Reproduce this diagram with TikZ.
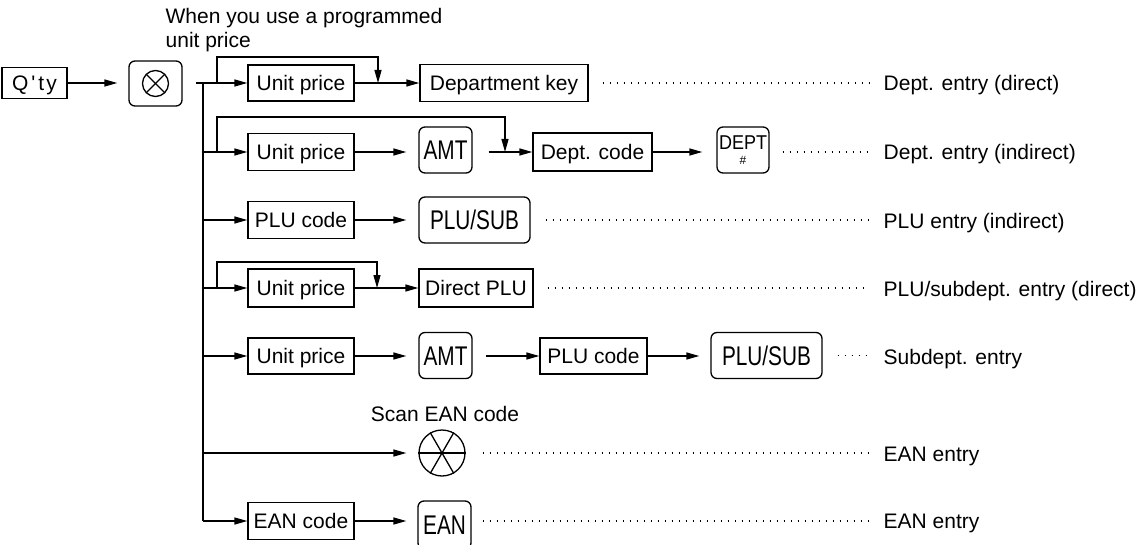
\documentclass[tikz,border=0pt]{standalone}
\usepackage{fontspec}
\setmainfont{Liberation Sans}
\usepackage{graphicx}
\usetikzlibrary{arrows.meta}
\newcommand\keyt[1]{\scalebox{0.77}[1]{\fontsize{27}{27}\selectfont #1}}
\begin{document}
\begin{tikzpicture}[x=1pt,y=-1pt,
  line width=1.3pt,
  font=\fontsize{21}{24}\selectfont,
  every node/.style={inner sep=0pt},
  box/.style={draw, line width=1.3pt, minimum height=36pt, text height=15pt, text depth=0pt},
  key/.style={draw, line width=1.3pt, rounded corners=6pt, minimum width=53pt, minimum height=46pt, text height=19.3pt, text depth=0pt},
  arr/.style={-{Triangle[length=13pt,width=7pt]}},
  dotline/.style={line width=1.3pt, dash pattern=on 1.3pt off 5.7pt},
  lab/.style={anchor=base west},
]
\useasboundingbox (0,0) rectangle (1147,545);

% top note
\node[anchor=north west, align=left] (note) at (165,7.5) {When you use a programmed\\unit price};

% start
\node[box, minimum width=65pt, minimum height=31pt] (qty) at (34.5,83) {Q\kern3pt\textquotesingle\kern3pt t\kern2pt y};
\node[key, minimum height=45pt] (otimes) at (155.5,83.5) {};
\draw (otimes.center) circle[radius=13pt];
\draw ([shift={(45:13pt)}]otimes.center) -- ([shift={(225:13pt)}]otimes.center);
\draw ([shift={(135:13pt)}]otimes.center) -- ([shift={(315:13pt)}]otimes.center);
\draw[arr, shorten >=11pt] (qty) -- (qty -| otimes.west);

% trunk
\coordinate (stub) at (196,83);
\coordinate (ttop) at (203,83);
\coordinate (tbot) at (203,521);
\draw (ttop) -- (tbot);

% row 1
\node[box, minimum width=106pt] (u1) at (301,83) {Unit price};
\node[box, minimum width=168pt, minimum height=37pt] (dk) at (504,83) {Department key};
\draw[arr] (stub) -- (u1);
\coordinate (b1) at (217,83);
\coordinate (m1) at (378,83);
\draw[arr] (b1) -- ++(0,-26) -| (m1);
\draw[arr] (u1) -- (dk);

% row 2
\node[box, minimum width=106pt, minimum height=37pt] (u2) at (301,152) {Unit price};
\node[key] (amt1) at (445.5,150) {\keyt{AMT}};
\node[box, minimum width=119pt, minimum height=38pt] (dc) at (592.5,152) {Dept. code};
\node[key, minimum width=52pt] (dept) at (743,150) {};
\node[font=\fontsize{20}{20}\selectfont] (deptt) at ([yshift=7.5pt]dept.center) {\scalebox{0.9}[1]{DEPT}};
\node[font=\fontsize{12}{12}\selectfont] (depth) at ([yshift=-10pt]dept.center) {\#};
\draw[arr] (ttop |- u2) -- (u2);
\coordinate (b2) at (217,152);
\coordinate (m2) at (505,152);
\draw[arr] (b2) -- ++(0,-35) -| (m2);
\draw[arr, shorten >=12pt] (u2) -- (u2 -| amt1.west);
\draw[arr, shorten <=16pt] (amt1.east |- dc) -- (dc);
\draw[arr, shorten >=14pt] (dc) -- (dc -| dept.west);

% row 3
\node[box, minimum width=106pt, minimum height=37pt] (p1) at (301,220) {PLU code};
\node[key, minimum width=111pt] (ps1) at (474.5,220) {\keyt{PLU/SUB}};
\draw[arr] (ttop |- p1) -- (p1);
\draw[arr, shorten >=12pt] (p1) -- (ps1);

% row 4
\node[box, minimum width=106pt, minimum height=38pt] (u4) at (301,288) {Unit price};
\node[box, minimum width=114pt, minimum height=38pt] (dp) at (476,288) {Direct PLU};
\draw[arr] (ttop |- u4) -- (u4);
\coordinate (b4) at (217,288);
\coordinate (m4) at (377,288);
\draw[arr] (b4) -- ++(0,-26) -| (m4);
\draw[arr] (u4) -- (dp);

% row 5
\node[box, minimum width=106pt] (u5) at (301,356) {Unit price};
\node[key] (amt2) at (445.5,355.5) {\keyt{AMT}};
\node[box, minimum width=107pt] (p2) at (593.5,356) {PLU code};
\node[key, minimum width=111pt] (ps2) at (766.5,355.5) {\keyt{PLU/SUB}};
\draw[arr] (ttop |- u5) -- (u5);
\draw[arr, shorten >=12pt] (u5) -- (u5 -| amt2.west);
\draw[arr, shorten <=13pt] (amt2.east |- p2) -- (p2);
\draw[arr, shorten >=11pt] (p2) -- (p2 -| ps2.west);

% row 6
\node[anchor=base] (scantext) at (445,421) {Scan EAN code};
\node[draw, circle, line width=1.3pt, minimum size=46pt] (scan) at (442,453) {};
\draw (scan.0) -- (scan.180);
\draw (scan.60) -- (scan.240);
\draw (scan.120) -- (scan.300);
\draw[arr, shorten >=12pt] (ttop |- scan) -- (scan);

% row 7
\node[box, minimum width=106pt, minimum height=37pt] (ec) at (301,521) {EAN code};
\node[key, minimum height=48pt] (ean) at (444.5,525) {\keyt{EAN}};
\draw[arr] (tbot) -- (ec);
\draw[arr, shorten >=11pt] (ec) -- (ec -| ean.west);

% labels
\node[lab] (L1) at (883,91) {Dept. entry (direct)};
\node[lab] (L2) at (883,160) {Dept. entry (indirect)};
\node[lab] (L3) at (883,229) {PLU entry (indirect)};
\node[lab] (L4) at (883,296) {PLU/subdept. entry (direct)};
\node[lab] (L5) at (883,364) {Subdept. entry};
\node[lab] (L6) at (883,461) {EAN entry};
\node[lab] (L7) at (883,528) {EAN entry};

% dotted leaders
\draw[dotline, shorten <=14pt, shorten >=14pt] (dk.east) -- (dk -| L1.west);
\draw[dotline, shorten <=13pt, shorten >=14pt] (dept.east |- dc) -- (dc -| L2.west);
\draw[dotline, shorten <=15pt, shorten >=14pt] (ps1.east) -- (ps1 -| L3.west);
\draw[dotline, shorten <=14pt, shorten >=14pt] (dp.east) -- (dp -| L4.west);
\draw[dotline, shorten <=15pt, shorten >=14pt] (ps2.east) -- (ps2 -| L5.west);
\draw[dotline, shorten <=17pt, shorten >=14pt] (scan.east) -- (scan -| L6.west);
\draw[dotline, shorten <=11pt, shorten >=14pt] (ean.east |- ec) -- (ec -| L7.west);
\end{tikzpicture}
\end{document}
